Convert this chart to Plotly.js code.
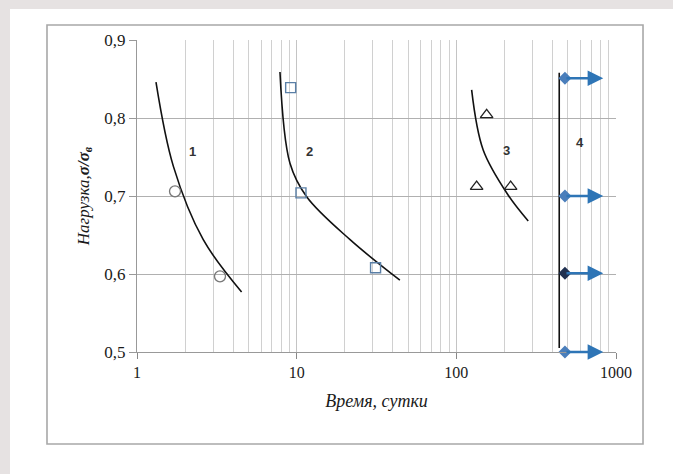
<!DOCTYPE html>
<html>
<head>
<meta charset="utf-8">
<script src="https://cdn.plot.ly/plotly-3.0.1.min.js"></script>
<style>
html,body{margin:0;padding:0;background:#e6e2e2;}
#chart{width:673px;height:474px;}
</style>
</head>
<body>
<div id="chart"></div>
<script>
// Curve 1 (fit line) and test points
const curve1X = [1.315, 1.69, 2.6, 4.52];
const curve1Y = [0.846, 0.738, 0.644, 0.577];
const pts1X = [1.73, 3.31];
const pts1Y = [0.706, 0.597];
// Curve 2
const curve2X = [7.86, 9.08, 11.55, 21.6, 44.3];
const curve2Y = [0.859, 0.742, 0.699, 0.644, 0.592];
const pts2X = [9.17, 10.64, 31.2];
const pts2Y = [0.839, 0.704, 0.608];
// Curve 3
const curve3X = [124.7, 147.3, 211.4, 282];
const curve3Y = [0.836, 0.759, 0.701, 0.668];
const pts3X = [154.8, 134, 218.8];
const pts3Y = [0.804, 0.712, 0.712];
// Curve 4: no failure (run-outs)
const line4X = [441, 441];
const line4Y = [0.858, 0.505];
const runoutX = [479, 479, 479, 479];
const runoutY = [0.851, 0.700, 0.601, 0.500];
const runoutEndX = 832;
const runoutColors = ['#4a7ebb', '#4a7ebb', '#1f2f4f', '#4a7ebb'];
// Curve labels
const labelText = ['1', '2', '3', '4'];
const labelX = [2.23, 12.1, 206.5, 594];
const labelY = [0.757, 0.757, 0.758, 0.768];

const xTicks = [1, 10, 100, 1000];
const yTicks = [0.5, 0.6, 0.7, 0.8, 0.9];

const serif = 'Liberation Serif';

const lineStyle = {color: '#111', width: 1.6, shape: 'spline', smoothing: 1.0};
const traces = [
  {x: curve1X, y: curve1Y, mode: 'lines', line: lineStyle},
  {x: curve2X, y: curve2Y, mode: 'lines', line: lineStyle},
  {x: curve3X, y: curve3Y, mode: 'lines', line: lineStyle},
  {x: line4X, y: line4Y, mode: 'lines', line: {color: '#111', width: 1.6}},
  {x: pts1X, y: pts1Y, mode: 'markers',
   marker: {symbol: 'circle-open', size: 11, color: '#777', line: {width: 1.3, color: '#777'}}},
  {x: pts2X, y: pts2Y, mode: 'markers',
   marker: {symbol: 'square-open', size: 10, color: '#5a7fa6', line: {width: 1.4, color: '#5a7fa6'}}},
  {x: pts3X, y: pts3Y, mode: 'markers',
   marker: {symbol: 'triangle-up-open', size: 11, color: '#222', line: {width: 1.3, color: '#222'}}},
  {x: runoutX, y: runoutY, mode: 'markers', cliponaxis: false,
   marker: {symbol: 'diamond', size: 10, color: runoutColors}}
];

const annotations = [];
for (let i = 0; i < runoutX.length; i++) {
  annotations.push({
    x: Math.log10(runoutEndX), y: runoutY[i],
    ax: Math.log10(runoutX[i]), ay: runoutY[i],
    xref: 'x', yref: 'y', axref: 'x', ayref: 'y',
    text: '', showarrow: true, arrowhead: 2, arrowsize: 1.2,
    arrowwidth: 2.6, arrowcolor: '#2e75b6', standoff: 0, startstandoff: 0
  });
}
for (let i = 0; i < labelText.length; i++) {
  annotations.push({
    x: Math.log10(labelX[i]), y: labelY[i], xref: 'x', yref: 'y',
    text: '<b>' + labelText[i] + '</b>', showarrow: false,
    font: {family: 'Liberation Sans', size: 13, color: '#333'}
  });
}

const layout = {
  width: 673, height: 474,
  margin: {l: 137, r: 57, t: 40, b: 122},
  paper_bgcolor: 'rgba(0,0,0,0)',
  plot_bgcolor: 'rgba(0,0,0,0)',
  showlegend: false,
  separators: ',.',
  font: {family: serif},
  shapes: [
    {type: 'rect', xref: 'paper', yref: 'paper', x0: -0.2651, x1: 1.2, y0: -0.5, y1: 1.0994,
     fillcolor: '#ffffff', line: {width: 0}, layer: 'below'},
    {type: 'rect', xref: 'paper', yref: 'paper', x0: -0.1879, x1: 1.0564, y0: -0.2949, y1: 1.0481,
     fillcolor: 'rgba(0,0,0,0)', line: {width: 1.6, color: '#a8a8a8'}, layer: 'below'}
  ],
  xaxis: {
    type: 'log', range: [0, 3],
    tickvals: xTicks, ticktext: xTicks.map(String),
    ticks: 'outside', ticklen: 6, tickcolor: '#888',
    showgrid: true, gridcolor: '#c4c4c4', gridwidth: 1,
    minor: {dtick: 'D1', showgrid: true, gridcolor: '#d0d0d0', gridwidth: 1, ticks: ''},
    showline: true, linecolor: '#999', linewidth: 1.2,
    zeroline: false,
    tickfont: {family: serif, size: 16, color: '#1a1a1a'},
    title: {text: '<i>Время, сутки</i>', font: {family: serif, size: 18, color: '#1a1a1a'}, standoff: 14}
  },
  yaxis: {
    range: [0.5, 0.9],
    tickvals: yTicks, tickformat: '.1f',
    ticks: 'outside', ticklen: 7, tickcolor: '#999',
    showgrid: true, gridcolor: '#b0b0b0', gridwidth: 1,
    showline: true, linecolor: '#999', linewidth: 1.2,
    zeroline: false,
    tickfont: {family: serif, size: 17, color: '#1a1a1a'},
    title: {text: '<i>Нагрузка,<b>σ/σ<sub>в</sub></b></i>', font: {family: serif, size: 17, color: '#1a1a1a'}, standoff: 10}
  },
  annotations: annotations
};

Plotly.newPlot('chart', traces, layout, {displayModeBar: false, staticPlot: true});
</script>
</body>
</html>
